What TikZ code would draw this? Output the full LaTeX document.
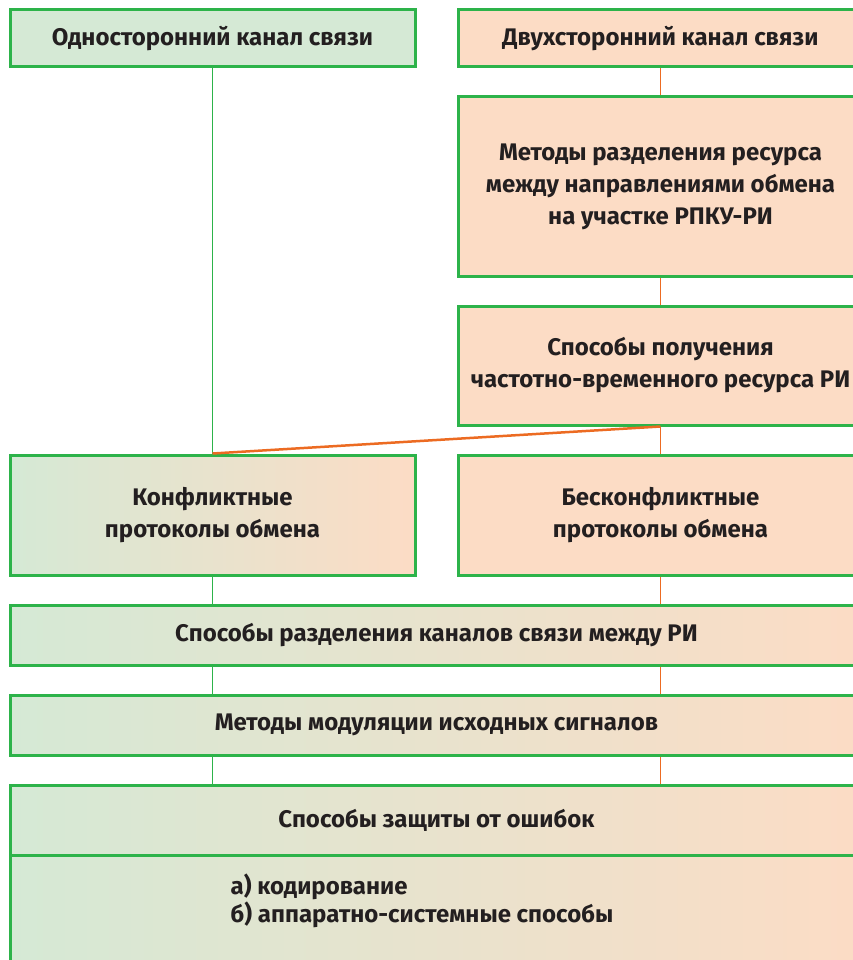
\documentclass[tikz,border=0pt]{standalone}
\usepackage{fontspec}
\setmainfont{Fira Sans}
\usetikzlibrary{positioning}

\definecolor{boxgreen}{HTML}{2DB34A}
\definecolor{lightgreen}{HTML}{D5E9D5}
\definecolor{peach}{HTML}{FCDCC5}
\definecolor{linkorange}{HTML}{EC6B22}
\definecolor{textdark}{HTML}{231F20}

\tikzset{
  box/.style={draw=boxgreen, line width=3pt, text=textdark, align=center,
    font=\bfseries\fontsize{24}{32}\selectfont, inner sep=0pt},
  greenbox/.style={box, fill=lightgreen},
  peachbox/.style={box, fill=peach},
  mixbox/.style={box, left color=lightgreen, right color=peach},
  greenline/.style={draw=boxgreen, line width=1.6pt},
  orangeline/.style={draw=linkorange, line width=1.5pt},
}

\begin{document}
\begin{tikzpicture}[x=1pt, y=1pt]
  \useasboundingbox (0,0) rectangle (852,-960);
  % left column
  \node[greenbox, minimum width=405, minimum height=57] (one) at (212.5,-38.5) {Односторонний канал связи};
  \node[mixbox, minimum width=405, minimum height=120] (konf) at (212.5,-515) {Конфликтные\\протоколы обмена};
  % right column
  \node[peachbox, minimum width=405, minimum height=57] (two) at (660.5,-38.5) {Двухсторонний канал связи};
  \node[peachbox, minimum width=405, minimum height=179] (metody) at (660.5,-186.5) {Методы разделения ресурса\\между направлениями обмена\\на участке РПКУ-РИ};
  \node[peachbox, minimum width=405, minimum height=119] (sposoby) at (660.5,-365.5) {Способы получения\\частотно-временного ресурса РИ};
  \node[peachbox, minimum width=405, minimum height=120] (beskonf) at (660.5,-515) {Бесконфликтные\\протоколы обмена};
  % full width
  \node[mixbox, minimum width=853, minimum height=60] (razdel) at (436.5,-635) {Способы разделения каналов связи между РИ};
  \node[mixbox, minimum width=853, minimum height=60] (modul) at (436.5,-725) {Методы модуляции исходных сигналов};
  \node[mixbox, minimum width=853, minimum height=70] (zaschita) at (436.5,-820) {Способы защиты от ошибок};
  \node[mixbox, minimum width=853, minimum height=120, below=-3pt of zaschita] (zaschlist) {};
  \node[anchor=north west, align=left, text=textdark, inner sep=0pt,
    font=\bfseries\fontsize{24}{28}\selectfont] (spisok)
    at ([xshift=222pt, yshift=-20pt]zaschlist.north west) {а) кодирование\\б) аппаратно-системные способы};

  % links
  \draw[greenline] (one.south) -- (konf.north);
  \draw[orangeline] (two.south) -- (metody.north);
  \draw[orangeline] (metody.south) -- (sposoby.north);
  \draw[orangeline] (sposoby.south) -- (beskonf.north);
  \draw[orangeline, line width=2.5pt] (sposoby.south) -- (konf.north);
  \draw[greenline] (konf.south) -- (konf.south |- razdel.north);
  \draw[orangeline] (beskonf.south) -- (beskonf.south |- razdel.north);
  \draw[greenline] (razdel.south -| konf.south) -- (modul.north -| konf.south);
  \draw[orangeline] (razdel.south -| beskonf.south) -- (modul.north -| beskonf.south);
  \draw[greenline] (modul.south -| konf.south) -- (zaschita.north -| konf.south);
  \draw[orangeline] (modul.south -| beskonf.south) -- (zaschita.north -| beskonf.south);
\end{tikzpicture}
\end{document}
